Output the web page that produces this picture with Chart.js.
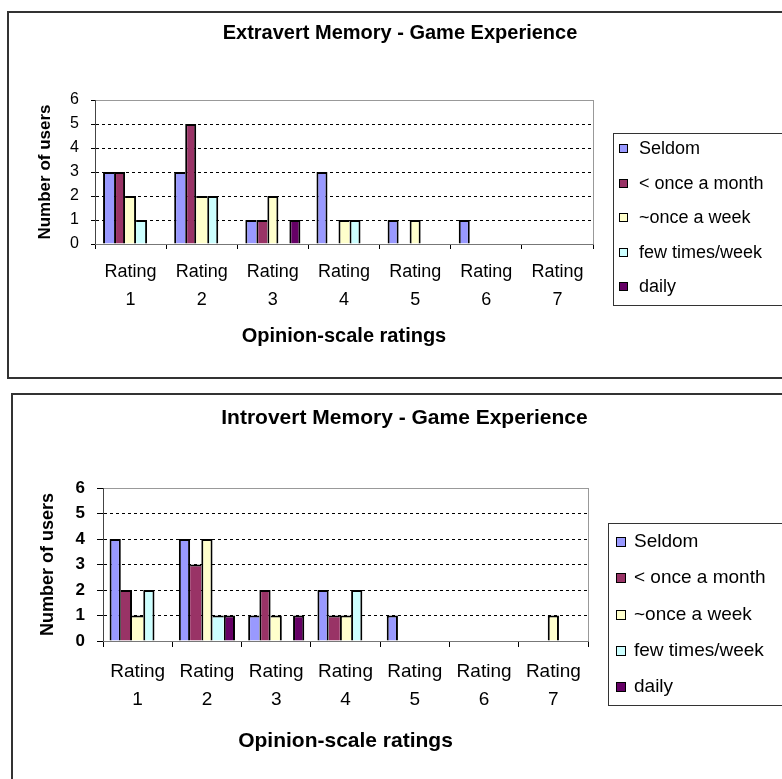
<!DOCTYPE html>
<html>
<head>
<meta charset="utf-8">
<title>Memory - Game Experience</title>
<script src="https://cdn.jsdelivr.net/npm/chart.js@4"></script>
<style>
  html, body { margin: 0; padding: 0; background: #fff; width: 782px; height: 779px; overflow: hidden; }
  .box { position: absolute; border: 2px solid #333; background: #fff; }
  canvas { display: block; }
</style>
</head>
<body>
<div class="box" style="left:7px;top:11px;width:800px;height:364px">
  <canvas id="extravert" width="782" height="364"></canvas>
</div>
<div class="box" style="left:11px;top:393px;width:800px;height:400px">
  <canvas id="introvert" width="783" height="400"></canvas>
</div>
<script>
// ratings on the opinion scale and how often the users play
const ratings = ["1", "2", "3", "4", "5", "6", "7"];
const groups = ["Seldom", "< once a month", "~once a week", "few times/week", "daily"];
const colors = ["#9999FF", "#993366", "#FFFFCC", "#CCFFFF", "#660066"];

// extravert memory game: users per rating
const extraSeldom = [3, 3, 1, 3, 1, 1, 0];
const extraMonth  = [3, 5, 1, 0, 0, 0, 0];
const extraWeek   = [2, 2, 2, 1, 1, 0, 0];
const extraFew    = [1, 2, 0, 1, 0, 0, 0];
const extraDaily  = [0, 0, 1, 0, 0, 0, 0];

// introvert memory game: users per rating
const introSeldom = [4, 4, 1, 2, 1, 0, 0];
const introMonth  = [2, 3, 2, 1, 0, 0, 0];
const introWeek   = [1, 4, 1, 1, 0, 0, 1];
const introFew    = [2, 1, 0, 2, 0, 0, 0];
const introDaily  = [0, 1, 1, 0, 0, 0, 0];

const yTicks = [0, 1, 2, 3, 4, 5, 6];
const FONT = '"Liberation Sans", Arial, sans-serif';
Chart.defaults.font.family = FONT;
Chart.defaults.color = "#000";

// neighbouring bars share one outline: the taller bar draws the common edge
function edgeWidths(c) {
  const ds = c.chart.data.datasets;
  const cur = ds[c.datasetIndex].data[c.dataIndex];
  const prev = c.datasetIndex > 0 ? ds[c.datasetIndex - 1].data[c.dataIndex] : 0;
  const next = c.datasetIndex < ds.length - 1 ? ds[c.datasetIndex + 1].data[c.dataIndex] : 0;
  const w = 2;
  return { top: w, bottom: 0, left: prev <= cur ? w : 0, right: next < cur ? w : 0 };
}

// framed legend at the right, one row per series
const boxLegend = {
  id: "boxLegend",
  afterDraw(chart, args, o) {
    const ctx = chart.ctx;
    ctx.save();
    ctx.lineWidth = 1;
    ctx.strokeStyle = "#333";
    ctx.strokeRect(o.x + 0.5, o.y + 0.5, o.w, o.h);
    ctx.font = o.font;
    ctx.textBaseline = "middle";
    ctx.textAlign = "left";
    chart.data.datasets.forEach((ds, i) => {
      const y = Math.round(o.firstRow + i * o.rowGap);
      const top = y - Math.round(o.mark / 2);
      ctx.fillStyle = ds.backgroundColor;
      ctx.fillRect(o.markX, top, o.mark, o.mark);
      ctx.strokeStyle = "#000";
      ctx.strokeRect(o.markX + 0.5, top + 0.5, o.mark - 1, o.mark - 1);
      ctx.fillStyle = "#000";
      ctx.fillText(ds.label, o.textX, y);
    });
    ctx.restore();
  }
};

function buildChart(id, title, series, L) {
  const datasets = series.map((data, i) => ({
    label: groups[i],
    data,
    yAxisID: "y",
    backgroundColor: colors[i],
    borderColor: "#000",
    borderWidth: edgeWidths,
    borderSkipped: "start",
    barPercentage: 1,
    categoryPercentage: L.catPct
  }));

  new Chart(document.getElementById(id), {
    type: "bar",
    data: { labels: ratings.map(r => ["Rating", r]), datasets },
    options: {
      responsive: false,
      animation: false,
      layout: { padding: 0 },
      plugins: {
        legend: { display: false },
        tooltip: { enabled: false },
        title: {
          display: true,
          text: title,
          color: "#000",
          font: { size: L.titleSize, weight: "bold", lineHeight: 1.2 },
          padding: { top: L.titleTop, bottom: L.titleBottom }
        },
        boxLegend: L.legend
      },
      scales: {
        y: {
          min: 0,
          max: 6,
          afterBuildTicks: s => { s.ticks = yTicks.map(v => ({ value: v })); },
          afterFit: s => { s.width = L.yWidth; },
          ticks: { font: { size: L.yTickSize, weight: L.yTickWeight }, padding: L.yPad, color: "#000" },
          grid: {
            color: c => {
              const v = c.tick ? c.tick.value : -1;
              if (v === 6) return "#999";
              if (v === 0) return "rgba(0,0,0,0)";
              return "#000";
            },
            tickColor: "#000",
            tickLength: L.yTick
          },
          border: {
            color: "#444",
            width: 1,
            dash: c => (c.tick && c.tick.value === 6) ? [] : [3, 3]
          },
          title: {
            display: true,
            text: "Number of users",
            color: "#000",
            font: { size: L.yTitleSize, weight: "bold", lineHeight: 1.2 },
            padding: { top: L.yTitlePad, bottom: 0 }
          }
        },
        yR: {
          position: "right",
          afterFit: s => { s.width = L.rightWidth; },
          ticks: { display: false },
          grid: { display: false },
          border: { display: true, color: "#999", width: 1 }
        },
        x: {
          afterFit: s => { s.height = L.xHeight; },
          ticks: {
            font: { size: L.xTickSize, lineHeight: "28px" },
            padding: L.xPad,
            maxRotation: 0,
            autoSkip: false,
            color: "#000"
          },
          grid: { offset: true, drawOnChartArea: false, drawTicks: true, tickLength: L.xTick, color: "#000" },
          border: { color: "#777", width: 1 },
          title: {
            display: true,
            text: "Opinion-scale ratings",
            color: "#000",
            font: { size: L.xTitleSize, weight: "bold", lineHeight: 1.2 },
            padding: { top: 0, bottom: L.xTitlePad }
          }
        }
      }
    },
    plugins: [boxLegend]
  });
}

buildChart("extravert", "Extravert Memory - Game Experience",
  [extraSeldom, extraMonth, extraWeek, extraFew, extraDaily], {
    catPct: 0.774,
    titleSize: 20, titleTop: 8, titleBottom: 55,
    yWidth: 86, yTickSize: 16, yTickWeight: "normal", yPad: 12, yTick: 4,
    yTitleSize: 17, yTitlePad: 25.8,
    rightWidth: 198,
    xHeight: 133, xTickSize: 18, xPad: 9, xTick: 5,
    xTitleSize: 20, xTitlePad: 29,
    legend: { x: 604, y: 120, w: 200, h: 172, firstRow: 136, rowGap: 34.6,
              markX: 610, mark: 9, textX: 630, font: '18px ' + FONT }
  });

buildChart("introvert", "Introvert Memory - Game Experience",
  [introSeldom, introMonth, introWeek, introFew, introDaily], {
    catPct: 0.81,
    titleSize: 21, titleTop: 10.4, titleBottom: 57.4,
    yWidth: 90, yTickSize: 17, yTickWeight: "bold", yPad: 12, yTick: 6,
    yTitleSize: 18, yTitlePad: 24.2,
    rightWidth: 208,
    xHeight: 154, xTickSize: 19, xPad: 11, xTick: 6,
    xTitleSize: 21, xTitlePad: 41.4,
    legend: { x: 595, y: 128, w: 220, h: 182, firstRow: 147, rowGap: 36.3,
              markX: 603, mark: 10, textX: 621, font: '19px ' + FONT }
  });
</script>
</body>
</html>
